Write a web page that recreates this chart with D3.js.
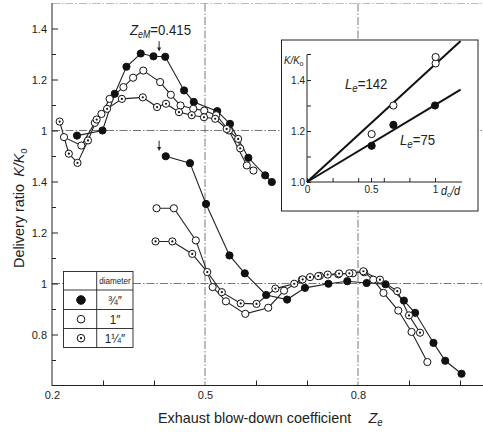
<!DOCTYPE html>
<html>
<head>
<meta charset="utf-8">
<script src="https://cdn.jsdelivr.net/npm/d3@7"></script>
<style>
  html, body { margin: 0; padding: 0; background: #fff; }
  svg { display: block; }
</style>
</head>
<body>
<div id="chart"></div>
<script>
// Delivery ratio K/K0 vs exhaust blow-down coefficient Ze.
// Two groups of curves share the left axis: the upper group is read on the
// upper labels (1 .. 1.4), the lower group on the lower ones (0.8 .. 1.4).

// upper group  [Ze, K/K0]
const up34 = [[0.249,0.98],[0.299,1.0],[0.323,1.144],[0.346,1.25],[0.374,1.302],[0.399,1.291],[0.422,1.289],[0.459,1.157],[0.478,1.112],[0.524,1.076],[0.549,1.026],[0.585,0.893],[0.618,0.824],[0.631,0.798]];
const up1 = [[0.2235,0.974],[0.2575,0.941],[0.284,1.03],[0.297,1.065],[0.313,1.124],[0.34,1.17],[0.359,1.207],[0.379,1.235],[0.412,1.19],[0.433,1.14],[0.452,1.098],[0.477,1.085],[0.4985,1.078],[0.522,1.06],[0.547,1.0],[0.582,0.863],[0.595,0.843]];
const up114 = [[0.215,1.035],[0.233,0.909],[0.25,0.873],[0.2706,0.961],[0.2876,1.043],[0.308,1.085],[0.337,1.124],[0.378,1.13],[0.406,1.092],[0.4235,1.105],[0.449,1.072],[0.474,1.06],[0.498,1.052],[0.52,1.046],[0.5425,1.006],[0.565,0.967],[0.569,0.93]];

// lower group
const low34 = [[0.423,1.499],[0.4706,1.472],[0.502,1.312],[0.548,1.11],[0.578,1.04],[0.62,0.955],[0.661,0.937],[0.696,0.983],[0.742,0.999],[0.779,1.009],[0.817,1.002],[0.854,0.997],[0.89,0.933],[0.912,0.885],[0.948,0.767],[0.971,0.697],[1.003,0.646]];
const low1 = [[0.405,1.295],[0.439,1.295],[0.482,1.169],[0.515,0.986],[0.541,0.93],[0.579,0.881],[0.624,0.905],[0.655,0.972],[0.69,1.015],[0.725,1.03],[0.7614,1.036],[0.79,1.04],[0.812,1.044],[0.83,1.015],[0.85,0.963],[0.879,0.894],[0.905,0.81],[0.936,0.692]];
const low114 = [[0.403,1.165],[0.436,1.165],[0.475,1.116],[0.5045,1.045],[0.533,0.966],[0.57,0.922],[0.601,0.92],[0.638,0.98],[0.675,0.999],[0.6915,1.016],[0.706,1.025],[0.722,1.029],[0.7406,1.035],[0.763,1.039],[0.783,1.04],[0.8105,1.048],[0.843,1.015],[0.877,0.97],[0.9,0.875],[0.9216,0.807]];

// axis ticks
const xLabels = [0.2, 0.5, 0.8];
const xMinor = [0.3, 0.4, 0.6, 0.7, 0.9, 1.0];
const lowLabels = [0.8, 1, 1.2, 1.4];
const lowMinor = [0.7, 0.9, 1.1, 1.3, 1.5];
const upLabels = [1, 1.2, 1.4];
const upMinor = [1.1, 1.3];
const zeM = 0.41;

// inset: K/K0 vs d0/d
const inOpen = [[0.505,1.188],[0.675,1.30],[1.005,1.465],[1.005,1.49]];
const inFilled = [[0.505,1.142],[0.675,1.224],[1.0,1.30]];
const le142 = [[0,1.0],[1.2,1.553]];
const le75 = [[0,1.0],[1.2,1.362]];
const inXLabels = [0, 0.5, 1];
const inXMinor = [0.2, 0.4, 0.6, 0.8];
const inYLabels = [1.0, 1.2, 1.4];
const inYMinor = [1.1, 1.3];

const FONT = '"Liberation Sans", Arial, sans-serif';
const width = 483, height = 432;

const svg = d3.select('#chart').append('svg')
  .attr('width', width).attr('height', height)
  .attr('font-family', FONT);
svg.append('rect').attr('width', width).attr('height', height).attr('fill', '#fff');

const x = d3.scaleLinear().domain([0.2, 1.0]).range([52, 460]);
const yLow = d3.scaleLinear().domain([0.6, 2.1]).range([385.5, 3]);
const yUp = d3.scaleLinear().domain([0.0, 1.5]).range([385.5, 3]);

// frame + dash-dot grid
const grid = svg.append('g').attr('stroke', '#555').attr('stroke-width', 0.8)
  .attr('stroke-dasharray', '8,2,1.5,2').attr('fill', 'none');
grid.append('line').attr('x1', x(0.2)).attr('x2', width).attr('y1', 3.5).attr('y2', 3.5)
  .attr('stroke', '#aaa');
[0.5, 0.8].forEach(v => grid.append('line')
  .attr('x1', x(v)).attr('x2', x(v)).attr('y1', 3.5).attr('y2', 385.5));
grid.append('line').attr('x1', x(0.2)).attr('x2', width).attr('y1', yUp(1)).attr('y2', yUp(1));
grid.append('line').attr('x1', x(0.2)).attr('x2', width).attr('y1', yLow(1)).attr('y2', yLow(1));

// narrow text: glyphs squeezed horizontally like the condensed original
function narrowText(parent, tx, ty, opts) {
  const g = parent.append('g')
    .attr('transform', `translate(${tx},${ty})${opts.rotate ? ' rotate(-90)' : ''} scale(${opts.sx},1)`);
  return g.append('text').attr('x', 0).attr('y', 0)
    .attr('text-anchor', opts.anchor || 'start')
    .attr('font-size', opts.size).attr('fill', '#222');
}

// left axis
const axisStyle = g => {
  g.select('.domain').remove();
  g.selectAll('line').attr('stroke', '#222');
  g.selectAll('text').attr('font-size', '11px').attr('fill', '#222').attr('font-family', FONT);
};
svg.append('line').attr('x1', 52).attr('x2', 52).attr('y1', 3).attr('y2', 386)
  .attr('stroke', '#222').attr('stroke-width', 1);
svg.append('g').attr('transform', 'translate(52,0)')
  .call(d3.axisLeft(yLow).tickValues(lowLabels).tickSizeInner(-6).tickSizeOuter(0).tickPadding(5)
    .tickFormat(d => d === 1 ? '1' : d3.format('.1f')(d)))
  .call(axisStyle);
svg.append('g').attr('transform', 'translate(52,0)')
  .call(d3.axisLeft(yUp).tickValues(upLabels).tickSizeInner(-6).tickSizeOuter(0).tickPadding(5)
    .tickFormat(d => d === 1 ? '1' : d3.format('.1f')(d)))
  .call(axisStyle);
svg.append('g').attr('transform', 'translate(52,0)')
  .call(d3.axisLeft(yLow).tickValues(lowMinor).tickSizeInner(-4).tickSizeOuter(0).tickFormat(''))
  .call(axisStyle);
svg.append('g').attr('transform', 'translate(52,0)')
  .call(d3.axisLeft(yUp).tickValues(upMinor).tickSizeInner(-4).tickSizeOuter(0).tickFormat(''))
  .call(axisStyle);

// bottom axis
svg.append('line').attr('x1', 52).attr('x2', width).attr('y1', 385.5).attr('y2', 385.5)
  .attr('stroke', '#222').attr('stroke-width', 1);
svg.append('g').attr('transform', 'translate(0,385.5)')
  .call(d3.axisBottom(x).tickValues(xLabels).tickSize(0).tickPadding(6).tickFormat(d3.format('.1f')))
  .call(axisStyle);
svg.append('g').attr('transform', 'translate(0,385.5)')
  .call(d3.axisBottom(x).tickValues(xMinor).tickSizeInner(-5).tickSizeOuter(0).tickFormat(''))
  .call(axisStyle);

// curves
const series = [
  { data: up34, y: yUp, kind: 'filled' },
  { data: up1, y: yUp, kind: 'open' },
  { data: up114, y: yUp, kind: 'dot' },
  { data: low34, y: yLow, kind: 'filled' },
  { data: low1, y: yLow, kind: 'open' },
  { data: low114, y: yLow, kind: 'dot' }
];

function marker(g, kind, cx, cy, r) {
  g.append('circle').attr('cx', cx).attr('cy', cy).attr('r', r)
    .attr('fill', kind === 'filled' ? '#111' : '#fff')
    .attr('stroke', '#111').attr('stroke-width', 1);
  if (kind === 'dot') g.append('circle').attr('cx', cx).attr('cy', cy).attr('r', 1.1).attr('fill', '#111');
}

const plot = svg.append('g');
series.forEach(s => {
  const line = d3.line().x(d => x(d[0])).y(d => s.y(d[1]));
  plot.append('path').datum(s.data).attr('d', line)
    .attr('fill', 'none').attr('stroke', '#222').attr('stroke-width', 1.1);
});
series.forEach(s => {
  const g = plot.append('g');
  s.data.forEach(d => marker(g, s.kind, x(d[0]), s.y(d[1]), 3.6));
});

// Z_eM arrows
function arrow(x0, y0, y1) {
  svg.append('line').attr('x1', x0).attr('x2', x0).attr('y1', y0).attr('y2', y1 - 3)
    .attr('stroke', '#222').attr('stroke-width', 1);
  svg.append('path').attr('d', `M${x0 - 2},${y1 - 4} L${x0 + 2},${y1 - 4} L${x0},${y1} Z`).attr('fill', '#222');
}
arrow(x(zeM), yUp(1.35), yUp(1.31));
arrow(x(zeM), yLow(1.56), yLow(1.52));

const zt = narrowText(svg, 130, 35, { sx: 0.88, size: '15px' });
zt.append('tspan').attr('font-style', 'italic').text('Z');
zt.append('tspan').attr('font-style', 'italic').attr('font-size', '10px').attr('dy', 3).text('eM');
zt.append('tspan').attr('dy', -3).text('=0.415');

// legend
const lg = svg.append('g').attr('stroke', '#222').attr('stroke-width', 0.9);
lg.append('rect').attr('x', 63.5).attr('y', 271.5).attr('width', 69.5).attr('height', 76).attr('fill', '#fff');
lg.append('line').attr('x1', 96.7).attr('x2', 96.7).attr('y1', 271.5).attr('y2', 347.5);
[290, 309.5, 328.5].forEach(yy => lg.append('line').attr('x1', 63.5).attr('x2', 133).attr('y1', yy).attr('y2', yy));
narrowText(svg, 115, 284, { sx: 0.85, size: '9.5px', anchor: 'middle' }).text('diameter');
const legendRows = [
  { kind: 'filled', label: '¾″', cy: 300 },
  { kind: 'open', label: '1″', cy: 319.2 },
  { kind: 'dot', label: '1¼″', cy: 338.2 }
];
legendRows.forEach(r => {
  marker(svg, r.kind, 81, r.cy, r.kind === 'filled' ? 4.3 : 3.8);
  narrowText(svg, 115, r.cy + 4.5, { sx: 0.9, size: '13px', anchor: 'middle' }).text(r.label);
});

// axis titles
const yt = narrowText(svg, 24, 268, { sx: 0.96, size: '15px', rotate: true });
yt.append('tspan').text('Delivery ratio\u2002');
yt.append('tspan').attr('font-style', 'italic').text('K/K');
yt.append('tspan').attr('font-size', '10px').attr('dy', 3).text('o');

const xt = narrowText(svg, 158, 423, { sx: 0.96, size: '15px' });
xt.append('tspan').text('Exhaust blow-down coefficient');
xt.append('tspan').attr('dx', 18).attr('font-style', 'italic').text('Z');
xt.append('tspan').attr('font-style', 'italic').attr('font-size', '10px').attr('dy', 3).text('e');

// inset
const ix = d3.scaleLinear().domain([0, 1]).range([307, 435]);
const iy = d3.scaleLinear().domain([1.0, 1.5]).range([182, 54.5]);
const inset = svg.append('g');
inset.append('rect').attr('x', 281.5).attr('y', 40).attr('width', 196.5).attr('height', 171)
  .attr('fill', '#fff').attr('stroke', '#222').attr('stroke-width', 1);
svg.append('clipPath').attr('id', 'inclip').append('rect')
  .attr('x', 282).attr('y', 40.5).attr('width', 195.5).attr('height', 170);

inset.append('line').attr('x1', ix(0)).attr('x2', 462).attr('y1', iy(1)).attr('y2', iy(1)).attr('stroke', '#222');
inset.append('line').attr('x1', ix(0)).attr('x2', ix(0)).attr('y1', iy(1)).attr('y2', iy(1.5)).attr('stroke', '#222');
inset.append('line').attr('x1', ix(0)).attr('x2', ix(0) + 4).attr('y1', iy(1.5)).attr('y2', iy(1.5)).attr('stroke', '#222');
inset.append('g').attr('transform', `translate(0,${iy(1)})`)
  .call(d3.axisBottom(ix).tickValues(inXLabels).tickSize(0).tickPadding(4).tickFormat(d => d === 0.5 ? '0.5' : d3.format('d')(d)))
  .call(axisStyle);
inset.append('g').attr('transform', `translate(0,${iy(1)})`)
  .call(d3.axisBottom(ix).tickValues(inXLabels.concat(inXMinor)).tickSizeInner(-4).tickSizeOuter(0).tickFormat(''))
  .call(axisStyle);
inset.append('g').attr('transform', `translate(${ix(0)},0)`)
  .call(d3.axisLeft(iy).tickValues(inYLabels).tickSizeInner(-4).tickSizeOuter(0).tickPadding(2).tickFormat(d3.format('.1f')))
  .call(axisStyle);
inset.append('g').attr('transform', `translate(${ix(0)},0)`)
  .call(d3.axisLeft(iy).tickValues(inYMinor).tickSizeInner(-4).tickSizeOuter(0).tickFormat(''))
  .call(axisStyle);
inset.selectAll('text').attr('font-size', '10px');

const ik = narrowText(inset, 284, 64, { sx: 0.88, size: '11px' });
ik.append('tspan').attr('font-style', 'italic').text('K/K');
ik.append('tspan').attr('font-size', '8px').attr('dy', 2).text('o');
const idd = narrowText(inset, 441, 195, { sx: 0.9, size: '12px' });
idd.append('tspan').attr('font-style', 'italic').text('d');
idd.append('tspan').attr('font-size', '8px').attr('dy', 2).text('o');
idd.append('tspan').attr('font-style', 'italic').attr('dy', -2).text('/d');

const iline = d3.line().x(d => ix(d[0])).y(d => iy(d[1]));
[le142, le75].forEach(l => inset.append('path').datum(l).attr('d', iline)
  .attr('clip-path', 'url(#inclip)')
  .attr('fill', 'none').attr('stroke', '#111').attr('stroke-width', 2));
inOpen.forEach(d => marker(inset, 'open', ix(d[0]), iy(d[1]), 3.6));
inFilled.forEach(d => marker(inset, 'filled', ix(d[0]), iy(d[1]), 3.6));

function leLabel(xx, yy, val) {
  const t = narrowText(inset, xx, yy, { sx: 0.88, size: '15px' });
  t.append('tspan').attr('font-style', 'italic').text('L');
  t.append('tspan').attr('font-style', 'italic').attr('font-size', '11px').attr('dy', 3).text('e');
  t.append('tspan').attr('dy', -3).text('=' + val);
}
leLabel(345, 89, '142');
leLabel(400, 145, '75');
</script>
</body>
</html>
